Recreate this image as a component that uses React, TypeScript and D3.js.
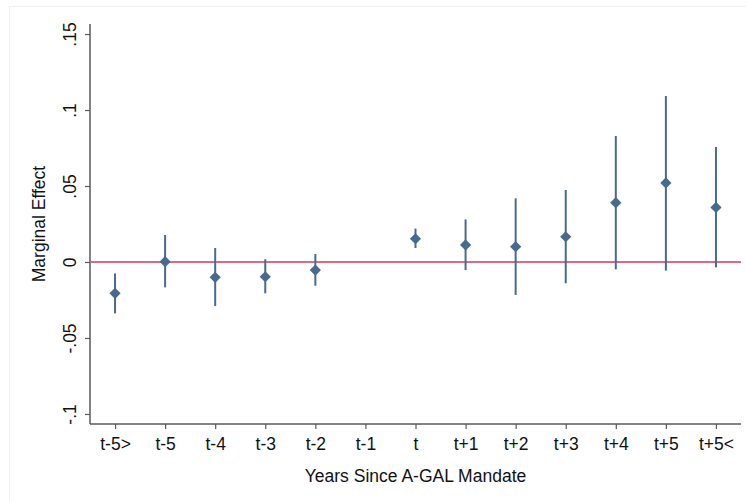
import { useEffect, useRef } from "react";
import * as d3 from "d3";

const categories = ["t-5>", "t-5", "t-4", "t-3", "t-2", "t-1", "t", "t+1", "t+2", "t+3", "t+4", "t+5", "t+5<"];
// t-1 is the reference year, so it has no estimate
const estimates = [-0.0206, 0.0002, -0.0101, -0.0097, -0.0053, null, 0.0153, 0.0112, 0.0101, 0.0166, 0.039, 0.052, 0.0359];
const ciLower = [-0.0338, -0.0167, -0.029, -0.0206, -0.0156, null, 0.0092, -0.0053, -0.0217, -0.014, -0.0048, -0.0057, -0.0035];
const ciUpper = [-0.0075, 0.0178, 0.0092, 0.0018, 0.0053, null, 0.022, 0.028, 0.0419, 0.0474, 0.0829, 0.1092, 0.0757];
const yTicks = [-0.1, -0.05, 0, 0.05, 0.1, 0.15];

const fmt = (v: number) => (v === 0 ? "0" : String(v).replace("0.", "."));

function App() {
  const svgRef = useRef<SVGSVGElement | null>(null);

  useEffect(() => {
    if (!svgRef.current) return;
    const svg = d3.select(svgRef.current);
    svg.selectAll("*").remove();

    const width = 746;
    const height = 501;
    const left = 90, right = 741, top = 24, bottom = 424;
    const markColor = "#476a8d";
    const axisColor = "#595959";
    const font = "Liberation Sans, Arial, sans-serif";
    const fontSize = "17.5px";

    svg.attr("viewBox", `0 0 ${width} ${height}`);

    // faint outer frame
    svg.append("rect")
      .attr("x", 9.5).attr("y", 6.5)
      .attr("width", width - 5).attr("height", height)
      .attr("fill", "none").attr("stroke", "#f0f0f0");

    const x = d3.scaleLinear().domain([-0.5, categories.length - 0.5]).range([left, right]);
    const y = d3.scaleLinear().domain([-0.1066, 0.1566]).range([bottom, top]);

    // y axis
    const yAxis = svg.append("g")
      .attr("transform", `translate(${left},0)`)
      .call(d3.axisLeft(y).tickValues(yTicks).tickSize(5).tickFormat((d) => fmt(+d)));
    yAxis.select(".domain").attr("stroke", axisColor).attr("stroke-width", 1.5).attr("d", `M0,${top}V${bottom}`);
    yAxis.selectAll(".tick line").attr("stroke", axisColor).attr("stroke-width", 1.2);
    yAxis.selectAll(".tick text")
      .attr("x", null).attr("dy", null)
      .attr("transform", "translate(-20,0) rotate(-90)")
      .attr("text-anchor", "middle")
      .attr("dominant-baseline", "central")
      .style("font-family", font).style("font-size", fontSize).attr("fill", "#111");

    // x axis
    const xAxis = svg.append("g")
      .attr("transform", `translate(0,${bottom})`)
      .call(d3.axisBottom(x).tickValues(d3.range(categories.length)).tickSize(5).tickFormat((d) => categories[+d]));
    xAxis.select(".domain").attr("stroke", axisColor).attr("stroke-width", 1.5).attr("d", `M${left},0H${right}`);
    xAxis.selectAll(".tick line").attr("stroke", axisColor).attr("stroke-width", 1.2);
    xAxis.selectAll(".tick text")
      .attr("y", 14).attr("dy", "0.71em")
      .style("font-family", font).style("font-size", fontSize).attr("fill", "#111");

    // zero reference line
    svg.append("line")
      .attr("x1", left + 1).attr("x2", right)
      .attr("y1", y(0)).attr("y2", y(0))
      .attr("stroke", "#d7345e").attr("stroke-width", 1.5);

    const idx = d3.range(categories.length).filter((i) => estimates[i] !== null);

    // confidence intervals
    svg.append("g").selectAll("line")
      .data(idx)
      .join("line")
      .attr("x1", (i) => x(i)).attr("x2", (i) => x(i))
      .attr("y1", (i) => y(ciLower[i] as number)).attr("y2", (i) => y(ciUpper[i] as number))
      .attr("stroke", markColor).attr("stroke-width", 2);

    // point estimates
    const diamond = d3.symbol().type(d3.symbolDiamond2).size(80);
    svg.append("g").selectAll("path")
      .data(idx)
      .join("path")
      .attr("d", diamond)
      .attr("transform", (i) => `translate(${x(i)},${y(estimates[i] as number)})`)
      .attr("fill", markColor);

    // axis titles
    svg.append("text")
      .attr("x", (left + right) / 2 + 0).attr("y", 476)
      .attr("text-anchor", "middle").attr("dominant-baseline", "central")
      .style("font-family", font).style("font-size", fontSize).attr("fill", "#111")
      .text("Years Since A-GAL Mandate");

    svg.append("text")
      .attr("transform", `translate(39,${(top + bottom) / 2}) rotate(-90)`)
      .attr("text-anchor", "middle").attr("dominant-baseline", "central")
      .style("font-family", font).style("font-size", fontSize).attr("fill", "#111")
      .text("Marginal Effect");
  }, []);

  return (
    <svg
      ref={svgRef}
      width={746}
      height={501}
      style={{ position: "absolute", left: 0, top: 0, background: "#fff" }}
    />
  );
}

export default App;
